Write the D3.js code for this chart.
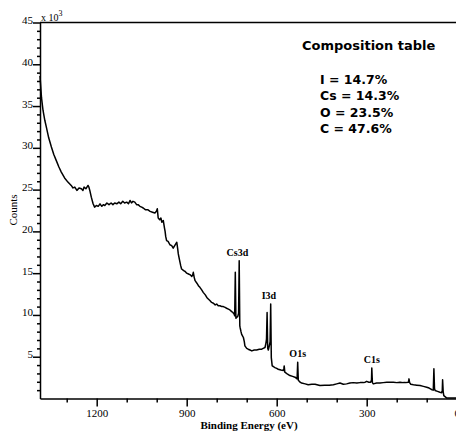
<!DOCTYPE html>
<html>
<head>
<meta charset="utf-8">
<script src="https://cdn.jsdelivr.net/npm/d3@7"></script>
<style>
  body { margin: 0; background: #fff; }
  svg { display: block; }
</style>
</head>
<body>
<div class="chart"></div>
<script>
// XPS survey spectrum, binding energy (eV) vs counts (x 10^3)
var energy = [1389, 1384, 1379, 1373, 1368, 1360, 1351, 1343, 1335, 1326, 1318, 1307, 1296, 1285, 1279, 1273,
  1266, 1259, 1251, 1246, 1242, 1236, 1229, 1226, 1223, 1218, 1212, 1207, 1201, 1195, 1189, 1183, 1178, 1173,
  1166, 1159, 1152, 1146, 1140, 1133, 1126, 1120, 1113, 1107, 1100, 1094, 1089, 1084, 1079, 1073, 1067, 1062,
  1056, 1050, 1045, 1038, 1030, 1022, 1014, 1006, 1001, 998, 995, 990, 986, 983, 978, 974, 972, 970, 967, 962,
  956, 950, 945, 940, 935, 933, 930, 928, 924, 920, 917, 910, 905, 900, 894, 888, 883, 880, 878, 875, 872, 866,
  861, 856, 850, 845, 838, 833, 828, 822, 817, 811, 805, 800, 795, 789, 783, 778, 772, 767, 761, 756, 750, 746,
  742, 740, 738, 736, 734, 730, 727, 725, 723, 722, 719, 717, 714, 711, 708, 706, 700, 695, 689, 683, 675, 667,
  658, 650, 645, 639, 636, 634, 632, 630, 628, 624, 622, 620, 618, 615, 610, 606, 600, 595, 586, 578, 576, 575,
  573, 565, 556, 547, 539, 534, 532, 530, 528, 527, 522, 517, 505, 495, 483, 472, 456, 440, 425, 411, 400, 389,
  378, 367, 356, 345, 333, 322, 311, 305, 300, 293, 287, 284, 283, 281, 278, 267, 256, 245, 233, 222, 211, 200,
  189, 178, 170, 161, 159, 157, 153, 144, 133, 122, 111, 100, 92, 83, 78, 76, 74, 72, 64, 56, 50, 48, 47, 45,
  43, 38, 33, 25, 16, 0];
var counts = [38.6, 36.0, 34.5, 33.3, 32.5, 31.2, 30.1, 29.2, 28.5, 27.7, 27.1, 26.4, 25.9, 25.5, 25.2, 25.3,
  24.9, 25.2, 25.1, 24.9, 25.3, 25.1, 25.5, 25.3, 24.9, 24.1, 23.3, 22.9, 23.1, 23.0, 23.3, 23.0, 23.2, 23.1,
  23.4, 23.2, 23.4, 23.2, 23.4, 23.3, 23.5, 23.3, 23.6, 23.4, 23.5, 23.3, 23.7, 23.4, 23.6, 23.5, 23.2, 23.2,
  23.0, 22.9, 22.8, 22.6, 22.6, 22.4, 22.3, 22.2, 22.4, 22.7, 21.6, 21.4, 21.6, 21.1, 21.3, 20.4, 20.0, 19.4,
  18.9, 18.8, 18.4, 18.3, 18.0, 18.3, 18.6, 18.7, 17.9, 17.3, 16.6, 15.9, 15.5, 15.3, 15.2, 15.0, 14.9, 14.8,
  14.6, 14.8, 15.1, 14.5, 14.1, 13.8, 13.5, 13.3, 13.0, 12.7, 12.4, 12.1, 11.9, 11.7, 11.5, 11.4, 11.2, 11.3,
  11.1, 11.1, 11.0, 11.0, 10.9, 10.8, 10.7, 10.6, 10.4, 10.3, 10.1, 9.9, 15.1, 9.6, 9.7, 9.8, 10.2, 16.5, 8.7,
  8.5, 8.0, 7.7, 7.5, 7.3, 6.8, 6.3, 6.0, 5.9, 5.8, 5.7, 5.8, 5.8, 5.9, 5.9, 6.0, 6.1, 6.6, 7.1, 10.3, 6.0,
  5.8, 6.4, 6.8, 11.3, 4.9, 3.9, 3.8, 3.7, 3.6, 3.5, 3.4, 3.35, 3.6, 3.9, 3.15, 2.95, 2.75, 2.65, 2.55, 2.4,
  2.35, 4.35, 2.2, 2.15, 1.95, 1.85, 1.75, 1.65, 1.7, 1.7, 1.55, 1.6, 1.6, 1.65, 1.75, 1.85, 1.7, 1.75, 1.85,
  1.9, 1.85, 1.9, 1.9, 1.95, 2.05, 1.95, 1.95, 2.2, 3.65, 1.9, 1.75, 1.85, 1.85, 1.9, 1.95, 1.95, 1.95, 1.9,
  1.95, 1.9, 1.9, 1.95, 2.35, 1.9, 1.7, 1.65, 1.6, 1.55, 1.45, 1.35, 1.25, 1.05, 1.0, 3.55, 1.2, 0.95, 0.85,
  0.75, 0.7, 1.0, 2.25, 0.8, 0.35, 0.2, 0.05, 0.05, 0.05, 0.05];

var peakNames = ["Cs3d", "I3d", "O1s", "C1s"];
var peakEnergy = [731, 626, 530, 283];

var compTitle = "Composition table";
var compLines = ["I = 14.7%", "Cs = 14.3%", "O = 23.5%", "C = 47.6%"];

var xMajor = [1200, 900, 600, 300, 0];
var xMinor = [1300, 1100, 1000, 800, 700, 500, 400, 200, 100];
var yMajor = [5, 10, 15, 20, 25, 30, 35, 40, 45];
var yMinor = d3.range(1, 45).filter(function(v) { return v % 5 !== 0; });

var svgWidth = 456, svgHeight = 432;
var margin = {top: 22.5, left: 40};
var width = 416.7, height = 376;
var serif = "'Liberation Serif', 'Times New Roman', serif";
var sans = "'DejaVu Sans', sans-serif";

var svg = d3.select(".chart").append("svg")
    .attr("width", svgWidth)
    .attr("height", svgHeight);

var g = svg.append("g")
    .attr("transform", "translate(" + margin.left + "," + margin.top + ")");

var x = d3.scaleLinear().domain([1389, 0]).range([0, width]);
var y = d3.scaleLinear().domain([0, 45]).range([height, 0]);

var data = energy.map(function(e, i) { return {e: e, c: counts[i]}; });

// spectrum line
var line = d3.line()
    .x(function(d) { return x(d.e); })
    .y(function(d) { return y(d.c); });

g.append("path")
    .datum(data)
    .attr("fill", "none")
    .attr("stroke", "#000")
    .attr("stroke-width", 1.5)
    .attr("stroke-linejoin", "round")
    .attr("d", line);

// x axis
var xAxisMinor = g.append("g")
    .attr("transform", "translate(0," + height + ")")
    .call(d3.axisBottom(x).tickValues(xMinor).tickSize(4).tickFormat(""));
xAxisMinor.select(".domain").remove();

var xAxis = g.append("g")
    .attr("transform", "translate(0," + height + ")")
    .call(d3.axisBottom(x).tickValues(xMajor).tickSize(8).tickSizeOuter(0)
        .tickPadding(3).tickFormat(d3.format("d")));

// y axis
var yAxisMinor = g.append("g")
    .call(d3.axisLeft(y).tickValues(yMinor).tickSize(3).tickFormat(""));
yAxisMinor.select(".domain").remove();

var yAxis = g.append("g")
    .call(d3.axisLeft(y).tickValues(yMajor).tickSize(7).tickSizeOuter(0).tickPadding(0));
yAxis.selectAll("text").attr("dy", "1px");

g.selectAll(".domain, .tick line")
    .attr("stroke", "#000")
    .attr("stroke-width", 1.5);
g.selectAll(".tick text")
    .attr("fill", "#000")
    .style("font-family", serif)
    .style("font-size", "11px");

// top frame line
g.append("line")
    .attr("x1", 0).attr("x2", width)
    .attr("y1", 0).attr("y2", 0)
    .attr("stroke", "#000")
    .attr("stroke-width", 1.5);

// scale multiplier
var mult = svg.append("text")
    .attr("x", 41).attr("y", 21)
    .style("font-family", serif)
    .style("font-size", "10px");
mult.append("tspan").text("x 10");
mult.append("tspan").attr("dy", -5).style("font-size", "8px").text("3");

// axis titles
svg.append("text")
    .attr("transform", "translate(17,210) rotate(-90)")
    .attr("text-anchor", "middle")
    .style("font-family", serif)
    .style("font-size", "11px")
    .text("Counts");

svg.append("text")
    .attr("x", 249).attr("y", 429)
    .attr("text-anchor", "middle")
    .style("font-family", serif)
    .style("font-size", "11px")
    .style("font-weight", "bold")
    .text("Binding Energy (eV)");

// peak labels, placed just above the highest point near each peak
peakNames.forEach(function(name, i) {
    var top = d3.max(data.filter(function(d) { return Math.abs(d.e - peakEnergy[i]) <= 12; }),
        function(d) { return d.c; });
    g.append("text")
        .attr("x", x(peakEnergy[i]))
        .attr("y", y(top) - 5)
        .attr("text-anchor", "middle")
        .style("font-family", serif)
        .style("font-size", "10px")
        .style("font-weight", "bold")
        .text(name);
});

// composition table
svg.append("text")
    .attr("x", 302).attr("y", 50)
    .style("font-family", sans)
    .style("font-size", "13px")
    .style("font-weight", "bold")
    .text(compTitle);

svg.selectAll(".comp")
    .data(compLines)
    .enter().append("text")
    .attr("class", "comp")
    .attr("x", 320)
    .attr("y", function(d, i) { return 84 + i * 16.3; })
    .style("font-family", sans)
    .style("font-size", "12.5px")
    .style("font-weight", "bold")
    .text(function(d) { return d; });
</script>
</body>
</html>
